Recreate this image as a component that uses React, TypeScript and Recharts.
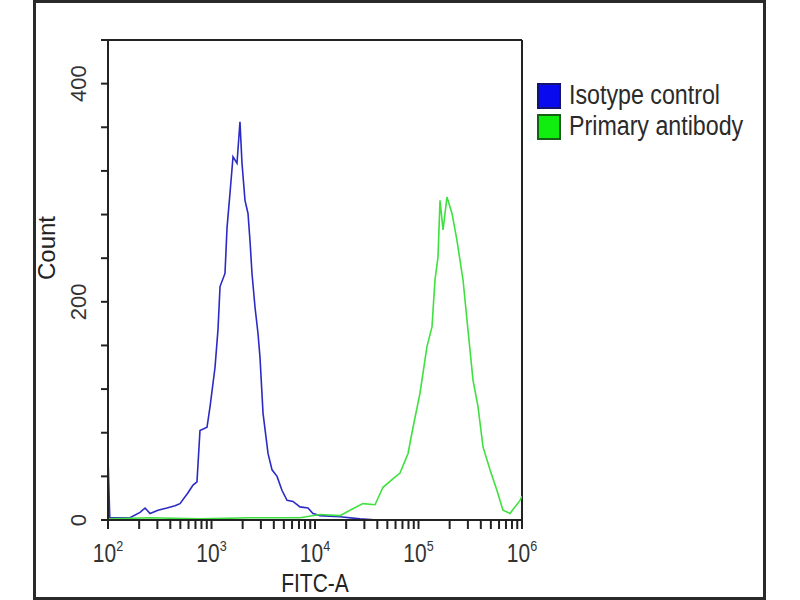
import React from "react";
import {
  LineChart,
  Line,
  XAxis,
  YAxis,
  ReferenceLine,
} from "recharts";

const FONT = "'Liberation Sans', Arial, sans-serif";
const AXIS = "#222";

// FITC-A intensity and event counts
const isotypeFitc = [
  100, 104, 163, 204, 228, 255, 304, 371, 444, 496, 593, 663, 724, 774, 905,
  968, 1082, 1156, 1209, 1350, 1413, 1510, 1614, 1763, 1884, 1971, 2107, 2253,
  2355, 2462, 2633, 2814, 2942, 3146, 3516, 3845, 4298, 4803, 5370, 6126, 7160,
  8554, 9565, 11170, 17450, 27240, 40000,
];
const isotypeCount = [
  58, 2, 2, 7, 11, 6, 9, 11, 13, 15, 25, 32, 35, 82, 85, 104, 140, 175, 214,
  226, 268, 300, 333, 327, 365, 327, 293, 281, 256, 226, 195, 171, 149, 98, 61,
  46, 40, 27, 18, 17, 12, 11, 6, 4, 3, 1, 0,
];

const primaryFitc = [
  100, 255, 774, 2355, 7160, 11170, 17450, 21780, 29100, 38020, 45400, 55460,
  66240, 79250, 88560, 103300, 120700, 135000, 144300, 154300, 161400, 172600,
  188400, 210700, 235600, 269300, 300800, 336400, 375800, 420100, 490800,
  573000, 654900, 765500, 957000, 1000000,
];
const primaryCount = [
  1, 2, 1, 2, 2, 5, 4, 9, 15, 14, 30, 37, 43, 61, 85, 116, 159, 177, 220, 241,
  293, 266, 296, 281, 256, 220, 174, 128, 104, 67, 46, 27, 9, 6, 18, 22,
];

const seriesNames = ["Isotype control", "Primary antibody"];
const seriesColors = ["#2b2bc4", "#3fe03f"];
const swatchFill = ["#0a0aee", "#10ee10"];
const swatchEdge = ["#141470", "#166016"];

const xTicks = [
  100, 200, 300, 400, 500, 600, 700, 800, 900,
  1000, 2000, 3000, 4000, 5000, 6000, 7000, 8000, 9000,
  10000, 20000, 30000, 40000, 50000, 60000, 70000, 80000, 90000,
  100000, 200000, 300000, 400000, 500000, 600000, 700000, 800000, 900000,
  1000000,
];
const xDecades = [100, 1000, 10000, 100000, 1000000];
const yTicks = [0, 40, 80, 120, 160, 200, 240, 280, 320, 360, 400, 440];
const yLabels = [0, 200, 400];

const isotype = isotypeFitc.map((f, i) => ({ fitc: f, count: isotypeCount[i] }));
const primary = primaryFitc.map((f, i) => ({ fitc: f, count: primaryCount[i] }));

function XTick({ x, payload }: any) {
  if (!xDecades.includes(payload.value)) return null;
  const exp = Math.round(Math.log10(payload.value));
  return (
    <g transform={`translate(${x}, 562) scale(0.84, 1)`}>
      <text x={0} y={0} textAnchor="middle" fill="#333" fontFamily={FONT} fontSize={25}>
        <tspan>10</tspan>
        <tspan dy={-11} fontSize={15}>
          {exp}
        </tspan>
      </text>
    </g>
  );
}

function YTick({ y, payload }: any) {
  if (!yLabels.includes(payload.value)) return null;
  return (
    <text
      transform={`translate(86, ${y}) rotate(-90)`}
      textAnchor="middle"
      fill="#333"
      fontFamily={FONT}
      fontSize={22}
    >
      {payload.value}
    </text>
  );
}

function XLabel({ viewBox }: any) {
  const cx = viewBox.x + viewBox.width / 2;
  return (
    <g transform={`translate(${cx}, 592) scale(0.84, 1)`}>
      <text x={0} y={0} textAnchor="middle" fill="#222" fontFamily={FONT} fontSize={25}>
        FITC-A
      </text>
    </g>
  );
}

function LegendBox() {
  return (
    <div style={{ position: "absolute", left: 537, top: 80, fontFamily: FONT }}>
      {seriesNames.map((name, i) => (
        <div key={name} style={{ display: "flex", alignItems: "center", height: 31 }}>
          <div
            style={{
              width: 20,
              height: 22,
              background: swatchFill[i],
              border: `2px solid ${swatchEdge[i]}`,
              marginRight: 8,
            }}
          />
          <span
            style={{
              fontSize: 27,
              color: "#2a2a2a",
              lineHeight: "31px",
              display: "inline-block",
              transform: "scaleX(0.86)",
              transformOrigin: "left center",
              whiteSpace: "nowrap",
            }}
          >
            {name}
          </span>
        </div>
      ))}
    </div>
  );
}

export default function App() {
  return (
    <div style={{ position: "absolute", left: 0, top: 0, width: 800, height: 600, background: "#fff" }}>
      <LineChart width={800} height={600} margin={{ top: 40, right: 278, left: 0, bottom: 0 }}>
        <XAxis
          dataKey="fitc"
          type="number"
          scale="log"
          domain={[100, 1000000]}
          ticks={xTicks}
          allowDataOverflow
          height={80}
          stroke={AXIS}
          strokeWidth={2}
          tickSize={9}
          tick={<XTick />}
          interval={0}
          label={<XLabel />}
        />
        <YAxis
          type="number"
          domain={[0, 440]}
          ticks={yTicks}
          width={108}
          stroke={AXIS}
          strokeWidth={2}
          tickSize={7}
          tick={<YTick />}
          interval={0}
          label={{
            value: "Count",
            angle: -90,
            position: "insideLeft",
            offset: 46,
            fill: "#222",
            fontSize: 24,
            fontFamily: FONT,
          }}
        />
        <ReferenceLine y={440} stroke={AXIS} strokeWidth={2} />
        <ReferenceLine x={1000000} stroke={AXIS} strokeWidth={2} />
        <Line
          data={isotype}
          dataKey="count"
          name={seriesNames[0]}
          type="linear"
          stroke={seriesColors[0]}
          strokeWidth={1.6}
          dot={false}
          isAnimationActive={false}
        />
        <Line
          data={primary}
          dataKey="count"
          name={seriesNames[1]}
          type="linear"
          stroke={seriesColors[1]}
          strokeWidth={1.6}
          dot={false}
          isAnimationActive={false}
        />
      </LineChart>
      <LegendBox />
      <div
        style={{
          position: "absolute",
          left: 33,
          top: 0,
          width: 733,
          height: 600,
          border: "3px solid #2a2a2a",
          boxSizing: "border-box",
          pointerEvents: "none",
        }}
      />
    </div>
  );
}
